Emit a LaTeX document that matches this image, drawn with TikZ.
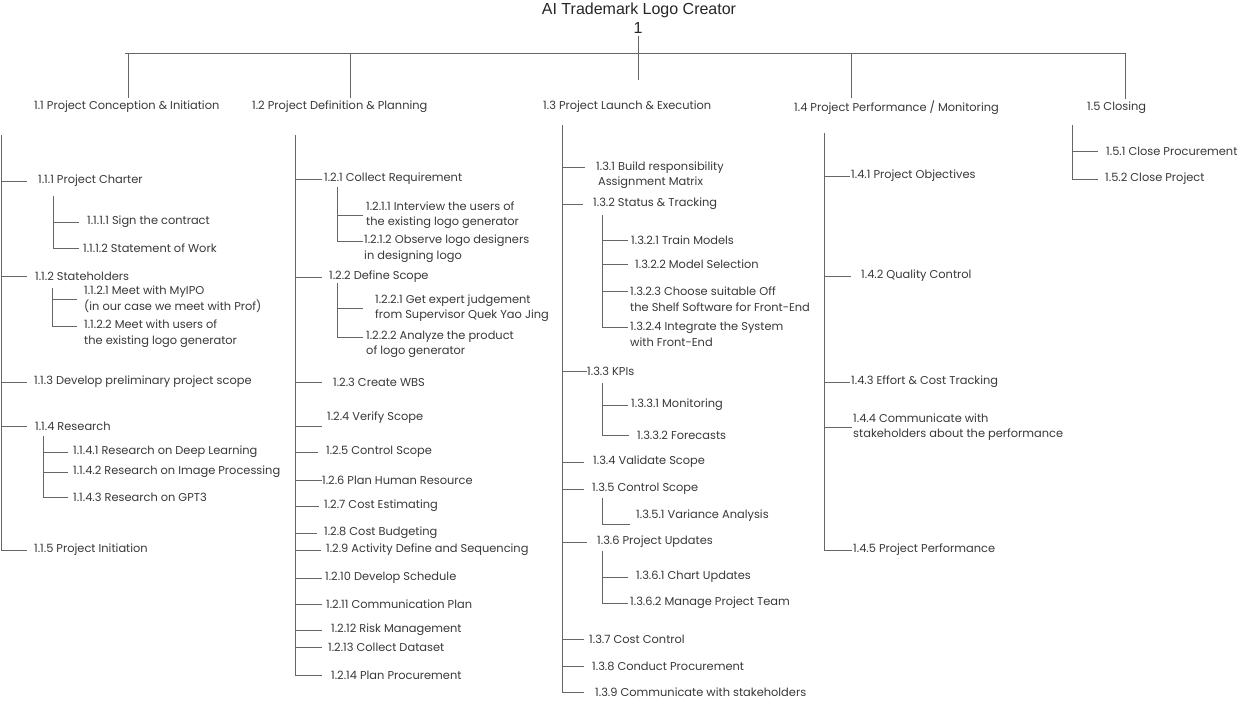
\documentclass[tikz,border=0pt]{standalone}
\usepackage{fontspec}
\setmainfont{Poppins}
\newfontfamily\titlefont{Liberation Sans}
\tikzset{
  wbs/.style={anchor=west, inner sep=0pt, align=left, text=black!78, font=\fontsize{11.4}{15.5}\selectfont},
  spine/.style={draw=black!60, line width=0.8pt},
  head/.style={inner sep=0pt, text=black!85, font=\titlefont\fontsize{16}{18}\selectfont},
}

\begin{document}
\begin{tikzpicture}[x=1pt, y=-1pt]
\useasboundingbox (0,0) rectangle (1241,701);
% root and top bar
\node [head] (root) at (639,10.5) {AI Trademark Logo Creator};
\node [head] (rootno) at (638,28) {1};
\coordinate (stem) at (638,80);
\coordinate (d11) at (128,53);
\coordinate (d12) at (350,53);
\coordinate (d14) at (851,53);
\coordinate (d15) at (1125,53);
\draw [spine] ([yshift=-2]rootno.south) -- (stem);
\draw [spine] ([xshift=-3]d11) -- (d15);

% level 1
\node [wbs] (l11) at (34,107) {1.1 Project Conception \& Initiation};
\node [wbs] (l12) at (252,107) {1.2 Project Definition \& Planning};
\node [wbs] (l13) at (543,107) {1.3 Project Launch \& Execution};
\node [wbs] (l14) at (794,108) {1.4 Project Performance / Monitoring};
\node [wbs] (l15) at (1087,108) {1.5 Closing};
\draw [spine] (d11) -- ([yshift=3]d11 |- l11.north);
\draw [spine] (d12) -- ([yshift=3]d12 |- l12.north);
\draw [spine] (d14) -- ([yshift=3]d14 |- l14.north);
\draw [spine] (d15) -- ([yshift=3]d15 |- l15.north);

% 1.1 Project Conception & Initiation
\coordinate (s11) at (1,135);
\coordinate (s111) at (53,196);
\coordinate (s112) at (52,288);
\coordinate (s114) at (43,436);
\node [wbs] (n111) at (38,181) {1.1.1 Project Charter};
\node [wbs] (n1111) at (87,222) {1.1.1.1 Sign the contract};
\node [wbs] (n1112) at (83,248) {1.1.1.2 Statement of Work};
\node [wbs] (n112) at (35,276) {1.1.2 Stateholders};
\node [wbs] (n1121) at (84,299) {1.1.2.1 Meet with MyIPO\\(in our case we meet with Prof)};
\node [wbs] (n1122) at (84,333.5) {1.1.2.2 Meet with users of\\the existing logo generator};
\node [wbs] (n113) at (34,382) {1.1.3 Develop preliminary project scope};
\node [wbs] (n114) at (35,426) {1.1.4 Research};
\node [wbs] (n1141) at (73,452) {1.1.4.1 Research on Deep Learning};
\node [wbs] (n1142) at (73,472) {1.1.4.2 Research on Image Processing};
\node [wbs] (n1143) at (73,497) {1.1.4.3 Research on GPT3};
\node [wbs] (n115) at (34,550) {1.1.5 Project Initiation};
\draw [spine] (s11) -- (s11 |- n115.west);
\draw [spine] (s111) -- (s111 |- n1112.west);
\draw [spine] (s112) -- ([yshift=7.5]s112 |- n1122.west);
\draw [spine] (s114) -- (s114 |- n1143.west);
\draw [spine] (n111.west -| s11) -- ([xshift=-11]n111.west);
\draw [spine] (n1111.west -| s111) -- ([xshift=-8]n1111.west);
\draw [spine] (n1112.west -| s111) -- ([xshift=-4]n1112.west);
\draw [spine] (n112.west -| s11) -- ([xshift=-8]n112.west);
\draw [spine] (n1121.west -| s112) -- ([xshift=-7]n1121.west);
\draw [spine] ([yshift=7.5]n1122.west -| s112) -- ([xshift=-7,yshift=7.5]n1122.west);
\draw [spine] (n113.west -| s11) -- ([xshift=-7]n113.west);
\draw [spine] (n114.west -| s11) -- ([xshift=-8]n114.west);
\draw [spine] (n1141.west -| s114) -- ([xshift=-5]n1141.west);
\draw [spine] (n1142.west -| s114) -- ([xshift=-5]n1142.west);
\draw [spine] (n1143.west -| s114) -- ([xshift=-5]n1143.west);
\draw [spine] (n115.west -| s11) -- ([xshift=-7]n115.west);

% 1.2 Project Definition & Planning
\coordinate (s12) at (295,135);
\coordinate (s121) at (337,187);
\coordinate (s122) at (337,283);
\node [wbs] (n121) at (324,179) {1.2.1 Collect Requirement};
\node [wbs] (n1211) at (366,215) {1.2.1.1 Interview the users of\\the existing logo generator};
\node [wbs] (n1212) at (364,248.5) {1.2.1.2 Observe logo designers\\in designing logo};
\node [wbs] (n122) at (329,277) {1.2.2 Define Scope};
\node [wbs] (n1221) at (375,308) {1.2.2.1 Get expert judgement\\from Supervisor Quek Yao Jing};
\node [wbs] (n1222) at (366,344.5) {1.2.2.2 Analyze the product\\of logo generator};
\node [wbs] (n123) at (333,382) {1.2.3 Create WBS};
\node [wbs] (n124) at (327,418) {1.2.4 Verify Scope};
\node [wbs] (n125) at (326,452) {1.2.5 Control Scope};
\node [wbs] (n126) at (322,480) {1.2.6 Plan Human Resource};
\node [wbs] (n127) at (324,506) {1.2.7 Cost Estimating};
\node [wbs] (n128) at (324,533) {1.2.8 Cost Budgeting};
\node [wbs] (n129) at (326,550) {1.2.9 Activity Define and Sequencing};
\node [wbs] (n1210) at (325,578) {1.2.10 Develop Schedule};
\node [wbs] (n1211b) at (326,604) {1.2.11 Communication Plan};
\node [wbs] (n1212b) at (331,630) {1.2.12 Risk Management};
\node [wbs] (n1213) at (328,647) {1.2.13 Collect Dataset};
\node [wbs] (n1214) at (331,675) {1.2.14 Plan Procurement};
\draw [spine] (s12) -- (s12 |- n1214.west);
\draw [spine] (s121) -- ([yshift=7.5]s121 |- n1212.west);
\draw [spine] (s122) -- ([yshift=7.5]s122 |- n1222.west);
\draw [spine] (n121.west -| s12) -- ([xshift=-2]n121.west);
\draw [spine] (n1211.west -| s121) -- ([xshift=-3]n1211.west);
\draw [spine] ([yshift=7.5]n1212.west -| s121) -- ([xshift=-1,yshift=7.5]n1212.west);
\draw [spine] (n122.west -| s12) -- ([xshift=-7]n122.west);
\draw [spine] (n1221.west -| s122) -- ([xshift=-12]n1221.west);
\draw [spine] ([yshift=7.5]n1222.west -| s122) -- ([xshift=-3,yshift=7.5]n1222.west);
\draw [spine] (n123.west -| s12) -- ([xshift=-11]n123.west);
\draw [spine] ([yshift=-8]n124.west -| s12) -- ([xshift=-5,yshift=-8]n124.west);
\draw [spine] (n125.west -| s12) -- ([xshift=-8]n125.west);
\draw [spine] (n126.west -| s12) -- (n126.west);
\draw [spine] (n127.west -| s12) -- ([xshift=-5]n127.west);
\draw [spine] (n128.west -| s12) -- ([xshift=-7]n128.west);
\draw [spine] (n129.west -| s12) -- ([xshift=-5]n129.west);
\draw [spine] (n1210.west -| s12) -- ([xshift=-3]n1210.west);
\draw [spine] (n1211b.west -| s12) -- ([xshift=-4]n1211b.west);
\draw [spine] (n1212b.west -| s12) -- ([xshift=-9]n1212b.west);
\draw [spine] (n1213.west -| s12) -- ([xshift=-6]n1213.west);
\draw [spine] (n1214.west -| s12) -- ([xshift=-9]n1214.west);

% 1.3 Project Launch & Execution
\coordinate (s13) at (562,125);
\coordinate (s132) at (602,215);
\coordinate (s133) at (602,383);
\coordinate (s135) at (602,498);
\coordinate (s136) at (602,551);
\node [wbs] (n131) at (596,175) {1.3.1 Build responsibility\\\,Assignment Matrix};
\node [wbs] (n132) at (593,204) {1.3.2 Status \& Tracking};
\node [wbs] (n1321) at (631,240) {1.3.2.1 Train Models};
\node [wbs] (n1322) at (635,264) {1.3.2.2 Model Selection};
\node [wbs] (n1323) at (630,299) {1.3.2.3 Choose suitable Off\\the Shelf Software for Front-End};
\node [wbs] (n1324) at (630,334.5) {1.3.2.4 Integrate the System\\with Front-End};
\node [wbs] (n133) at (587,371) {1.3.3 KPIs};
\node [wbs] (n1331) at (631,405) {1.3.3.1 Monitoring};
\node [wbs] (n1332) at (637,435) {1.3.3.2 Forecasts};
\node [wbs] (n134) at (593,462) {1.3.4 Validate Scope};
\node [wbs] (n135) at (592,489) {1.3.5 Control Scope};
\node [wbs] (n1351) at (636,516) {1.3.5.1 Variance Analysis};
\node [wbs] (n136) at (597,542) {1.3.6 Project Updates};
\node [wbs] (n1361) at (636,577) {1.3.6.1 Chart Updates};
\node [wbs] (n1362) at (630,603) {1.3.6.2 Manage Project Team};
\node [wbs] (n137) at (589,639) {1.3.7 Cost Control};
\node [wbs] (n138) at (592,666) {1.3.8 Conduct Procurement};
\node [wbs] (n139) at (595,692) {1.3.9 Communicate with stakeholders};
\draw [spine] (s13) -- (s13 |- n139.west);
\draw [spine] (s132) -- ([yshift=7.5]s132 |- n1324.west);
\draw [spine] (s133) -- (s133 |- n1332.west);
\draw [spine] (s135) -- ([yshift=-8]s135 |- n1351.west);
\draw [spine] (s136) -- (s136 |- n1362.west);
\draw [spine] ([yshift=7.5]n131.west -| s13) -- ([xshift=-11,yshift=7.5]n131.west);
\draw [spine] (n132.west -| s13) -- ([xshift=-10]n132.west);
\draw [spine] (n1321.west -| s132) -- ([xshift=-3]n1321.west);
\draw [spine] (n1322.west -| s132) -- ([xshift=-7]n1322.west);
\draw [spine] ([yshift=7.5]n1323.west -| s132) -- ([xshift=-2,yshift=7.5]n1323.west);
\draw [spine] ([yshift=7.5]n1324.west -| s132) -- ([xshift=-2,yshift=7.5]n1324.west);
\draw [spine] (n133.west -| s13) -- (n133.west);
\draw [spine] (n1331.west -| s133) -- ([xshift=-3]n1331.west);
\draw [spine] (n1332.west -| s133) -- ([xshift=-8]n1332.west);
\draw [spine] (n134.west -| s13) -- ([xshift=-9]n134.west);
\draw [spine] (n135.west -| s13) -- ([xshift=-8]n135.west);
\draw [spine] ([yshift=-8]n1351.west -| s135) -- ([xshift=-6,yshift=-8]n1351.west);
\draw [spine] (n136.west -| s13) -- ([xshift=-10]n136.west);
\draw [spine] (n1361.west -| s136) -- ([xshift=-8]n1361.west);
\draw [spine] (n1362.west -| s136) -- ([xshift=-2]n1362.west);
\draw [spine] (n137.west -| s13) -- ([xshift=-5]n137.west);
\draw [spine] (n138.west -| s13) -- ([xshift=-8]n138.west);
\draw [spine] (n139.west -| s13) -- ([xshift=-11]n139.west);

% 1.4 Project Performance / Monitoring
\coordinate (s14) at (824,133);
\node [wbs] (n141) at (851,176) {1.4.1 Project Objectives};
\node [wbs] (n142) at (861,276) {1.4.2 Quality Control};
\node [wbs] (n143) at (851,382) {1.4.3 Effort \& Cost Tracking};
\node [wbs] (n144) at (853,427) {1.4.4 Communicate with\\stakeholders about the performance};
\node [wbs] (n145) at (853,550) {1.4.5 Project Performance};
\draw [spine] (s14) -- (s14 |- n145.west);
\draw [spine] (n141.west -| s14) -- ([xshift=-1]n141.west);
\draw [spine] (n142.west -| s14) -- ([xshift=-10]n142.west);
\draw [spine] (n143.west -| s14) -- ([xshift=-1]n143.west);
\draw [spine] (n144.west -| s14) -- ([xshift=-1]n144.west);
\draw [spine] (n145.west -| s14) -- ([xshift=-1]n145.west);

% 1.5 Closing
\coordinate (s15) at (1072,125);
\node [wbs] (n151) at (1106,151) {1.5.1 Close Procurement};
\node [wbs] (n152) at (1105,179) {1.5.2 Close Project};
\draw [spine] (s15) -- (s15 |- n152.west);
\draw [spine] (n151.west -| s15) -- ([xshift=-8]n151.west);
\draw [spine] (n152.west -| s15) -- ([xshift=-7]n152.west);
\end{tikzpicture}
\end{document}
